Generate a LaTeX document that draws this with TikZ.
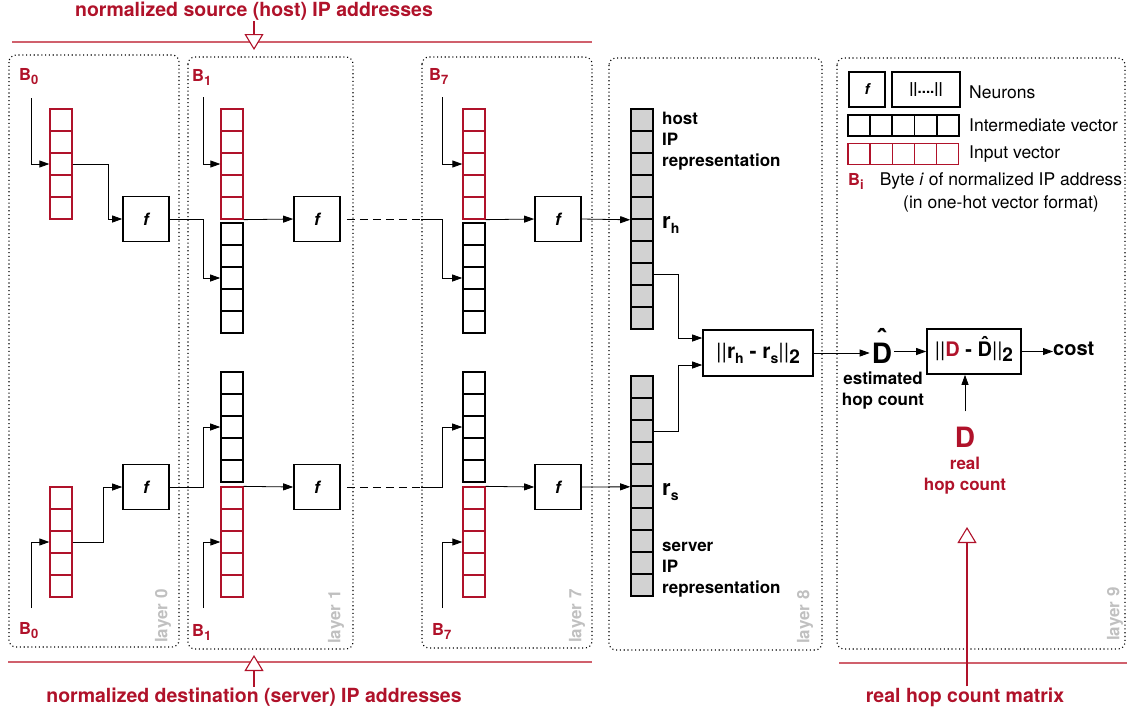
\documentclass[tikz,border=0pt]{standalone}
\usepackage{fontspec}
\setmainfont{TeX Gyre Heros}
\usetikzlibrary{arrows.meta,calc}

\definecolor{hred}{RGB}{176,18,42}
\definecolor{hline}{RGB}{208,96,108}
\definecolor{lgray}{RGB}{192,192,192}
\definecolor{cgray}{RGB}{210,210,210}

% lowered subscript, D with hat and a column of cells
\newcommand{\lowsub}[2][13]{\raisebox{-0.45ex}{\fontsize{#1}{#1}\selectfont #2}}
\newcommand{\hatD}[1]{\ooalign{D\cr\hidewidth\raisebox{#1}{\symbol{"02C6}}\hidewidth\cr}}
\newcommand{\topline}{\rule{0pt}{12.5pt}}
\newcommand{\cells}[5]{\foreach \i in {1,...,#4} \node[#5] (#1-\i) at (#2,{#3+11+22*(\i-1)}) {};}

\tikzset{
  redcell/.style={draw=hred, line width=1.3pt, minimum size=22pt, inner sep=0pt},
  blkcell/.style={draw, line width=1.6pt, minimum size=22pt, inner sep=0pt},
  graycell/.style={blkcell, fill=cgray},
  neuron/.style={draw, line width=1.6pt, minimum width=46pt, minimum height=45pt, font=\fontsize{17}{17}\selectfont\bfseries\itshape},
  opbox/.style={draw, line width=1.6pt, inner sep=2pt},
  layerbox/.style={line width=1.1pt, dash pattern=on 1.1pt off 2.7pt, rounded corners=7pt},
  layername/.style={rotate=90, anchor=west, text=lgray, font=\fontsize{17}{17}\selectfont\bfseries, inner sep=0pt},
  arr/.style={line width=0.8pt, -{Triangle[length=10pt,width=7pt]}},
  skip/.style={line width=0.8pt, dash pattern=on 8pt off 5pt},
  feed/.style={draw=hred, line width=1.1pt, -{Triangle[length=16pt,width=19pt,fill=white]}},
  bound/.style={draw=hline, line width=1.3pt},
  redtxt/.style={text=hred, font=\fontsize{19.5}{23}\selectfont\bfseries, inner sep=1pt},
  byte/.style={text=hred, font=\fontsize{16.5}{18}\selectfont\bfseries, inner sep=0pt, anchor=west},
  lbl/.style={font=\fontsize{17}{21}\selectfont\bfseries, inner sep=0pt, align=left},
  legtxt/.style={font=\fontsize{17.5}{23}\selectfont, inner sep=0pt, anchor=west},
}

\begin{document}
\begin{tikzpicture}[x=1pt,y=-1pt]
  \useasboundingbox (0,0) rectangle (1127,713);

  % layer boxes
  \draw[layerbox] (9,55) rectangle (179,647);
  \draw[layerbox] (188,57) rectangle (353,649);
  \draw[layerbox] (422,57) rectangle (592,648);
  \draw[layerbox] (609,58) rectangle (822,650);
  \draw[layerbox] (837,58) rectangle (1125,649);
  \node[layername] (l0) at (163,643) {layer 0};
  \node[layername] (l1) at (336,644) {layer 1};
  \node[layername] (l7) at (577,643) {layer 7};
  \node[layername] (l8) at (805,644) {layer 8};
  \node[layername] (l9) at (1115,641) {layer 9};

  % input feeds
  \draw[bound] (12,42) -- (592,42);
  \draw[bound] (8,662) -- (592,662);
  \draw[bound] (839,663) -- (1127,663);
  \node[redtxt] (srcT) at (254,11) {normalized source (host) IP addresses};
  \node[redtxt] (dstT) at (254,697) {normalized destination (server) IP addresses};
  \node[redtxt] (hopT) at (965,697) {real hop count matrix};
  \coordinate (srcIn) at (254,50);
  \coordinate (dstIn) at (254,655);
  \coordinate (hopIn) at (967,527);
  \draw[feed] (srcT.south -| srcIn) -- (srcIn);
  \draw[feed] (dstT.north -| dstIn) -- (dstIn);
  \draw[feed] (hopT.north -| hopIn) -- (hopIn);

  % vectors
  \cells{v0t}{61}{109}{5}{redcell}
  \cells{v0b}{61}{487}{5}{redcell}
  \cells{v1tr}{232}{109}{5}{redcell}
  \cells{v1tb}{232}{223}{5}{blkcell}
  \cells{v1bb}{232}{372}{5}{blkcell}
  \cells{v1br}{232}{487}{5}{redcell}
  \cells{v7tr}{474}{109}{5}{redcell}
  \cells{v7tb}{474}{223}{5}{blkcell}
  \cells{v7bb}{474}{372}{5}{blkcell}
  \cells{v7br}{474}{487}{5}{redcell}
  \cells{host}{642}{109}{10}{graycell}
  \cells{serv}{642}{376}{10}{graycell}

  % neurons
  \node[neuron] (f0t) at (146,219) {f};
  \node[neuron] (f0b) at (146,487) {f};
  \node[neuron] (f1t) at (317,219) {f};
  \node[neuron] (f1b) at (317,487) {f};
  \node[neuron] (f7t) at (558,219) {f};
  \node[neuron] (f7b) at (558,487) {f};

  % bytes
  \node[byte] (b0t) at (19,77) {B\lowsub{0}};
  \node[byte] (b1t) at (192,77) {B\lowsub{1}};
  \node[byte] (b7t) at (429,76) {B\lowsub{7}};
  \node[byte] (b0b) at (19,631) {B\lowsub{0}};
  \node[byte] (b1b) at (192,632) {B\lowsub{1}};
  \node[byte] (b7b) at (432,631) {B\lowsub{7}};
  \coordinate (in0t) at (31,98);
  \coordinate (in1t) at (203,97);
  \coordinate (in7t) at (442,97);
  \coordinate (in0b) at (31,608);
  \coordinate (in1b) at (203,608);
  \coordinate (in7b) at (442,608);
  \draw[arr] (in0t) |- (v0t-3.west);
  \draw[arr] (in1t) |- (v1tr-3.west);
  \draw[arr] (in7t) |- (v7tr-3.west);
  \draw[arr] (in0b) |- (v0b-3.west);
  \draw[arr] (in1b) |- (v1br-3.west);
  \draw[arr] (in7b) |- (v7br-3.west);

  % host side
  \coordinate (jt) at (421,219);
  \draw[arr] (v0t-3.east) -- ++(36,0) |- (f0t.west);
  \draw[arr] (f0t.east) -- ++(34,0) |- (v1tb-3.west);
  \draw[arr] (v1tr-5.south east) -- (f1t.west);
  \draw[skip, shorten <=6pt] (f1t.east) -- (jt);
  \draw[arr] (jt) -- ++(21,0) |- (v7tb-3.west);
  \draw[arr] (v7tr-5.south east) -- (f7t.west);
  \draw[arr] (f7t.east) -- (host-5.south west);

  % server side
  \coordinate (jb) at (421,487);
  \draw[arr] (v0b-3.east) -- ++(31,0) |- (f0b.west);
  \draw[arr] (f0b.east) -- ++(34,0) |- (v1bb-3.west);
  \draw[arr] (v1br-1.north east) -- (f1b.west);
  \draw[skip, shorten <=6pt] (f1b.east) -- (jb);
  \draw[arr] (jb) -- ++(21,0) |- (v7bb-3.west);
  \draw[arr] (v7br-1.north east) -- (f7b.west);
  \draw[arr] (f7b.east) -- (serv-5.south west);

  % representations
  \node[lbl, anchor=north west] (hostT) at (662,112) {\topline host\\IP\\representation};
  \node[lbl, anchor=north west] (servT) at (662,539) {\topline server\\IP\\representation};
  \node[font=\fontsize{22}{22}\selectfont\bfseries, inner sep=0pt, anchor=base west] (rh) at (662,228) {r\lowsub[14]{h}};
  \node[font=\fontsize{22}{22}\selectfont\bfseries, inner sep=0pt, anchor=base west] (rs) at (662,495) {r\lowsub[14]{s}};

  % distance and cost
  \node[opbox, minimum width=110pt, minimum height=46pt, font=\fontsize{21}{21}\selectfont\bfseries] (norm) at (758,353)
    {{\mdseries||}r\lowsub[14]{h} - r\lowsub[14]{s}{\mdseries||}\lowsub[19]{2}};
  \draw[arr] (host-8.east) -- ++(25,0) |- ($(norm.west)+(0,-15)$);
  \draw[arr] (serv-3.east) -- ++(25,0) |- ($(norm.west)+(0,12)$);
  \node[font=\fontsize{28}{28}\selectfont\bfseries, inner sep=2pt, anchor=base] (dhat) at (882,363) {\hatD{0.5em}};
  \draw[arr] (norm.east) -- (norm.east -| dhat.west);
  \node[lbl, align=center] (est) at (883,391) {estimated\\hop count};
  \node[opbox, minimum width=94pt, minimum height=45pt, font=\fontsize{20}{20}\selectfont\bfseries] (loss) at (974,351.5)
    {{\mdseries||}\textcolor{hred}{D} - \hatD{0.25em}{\mdseries||}\lowsub[19]{2}};
  \draw[arr] (dhat.east |- loss.west) -- (loss.west);
  \node[font=\fontsize{20}{20}\selectfont\bfseries, inner sep=0pt, anchor=west] (cost) at (1053,349) {cost};
  \draw[arr] (loss.east) -- (loss.east -| cost.west);
  \node[text=hred, font=\fontsize{28}{28}\selectfont\bfseries, inner sep=3pt, anchor=base] (realD) at (965,447) {D};
  \draw[arr] ($(realD.north)+(0,-12)$) -- (realD.north |- loss.south);
  \node[lbl, align=center, text=hred] (realT) at (965,476) {real\\hop count};

  % legend
  \node[neuron, minimum width=36pt, minimum height=35pt, font=\fontsize{15}{15}\selectfont\bfseries\itshape] (lgf) at (867,89.5) {f};
  \node[opbox, minimum width=68pt, minimum height=35pt, font=\fontsize{15}{15}\selectfont\bfseries] (lgn) at (926,89.5) {||....||};
  \node[legtxt] (lgnT) at (969,92) {Neurons};
  \foreach \i in {1,...,5} \node[blkcell, minimum height=21pt] (lgk-\i) at ({859+22.2*(\i-1)},125.5) {};
  \foreach \i in {1,...,5} \node[redcell, minimum height=21pt] (lgr-\i) at ({859+22.2*(\i-1)},154) {};
  \node[legtxt] (lgkT) at (969,125) {Intermediate vector};
  \node[legtxt] (lgrT) at (969,154) {Input vector};
  \node[byte] (lgb) at (848,181) {B\lowsub{i}};
  \node[legtxt, anchor=center, align=center] (lgbT) at (1001,192) {Byte \textit{i} of normalized IP address\\(in one-hot vector format)};
\end{tikzpicture}
\end{document}
